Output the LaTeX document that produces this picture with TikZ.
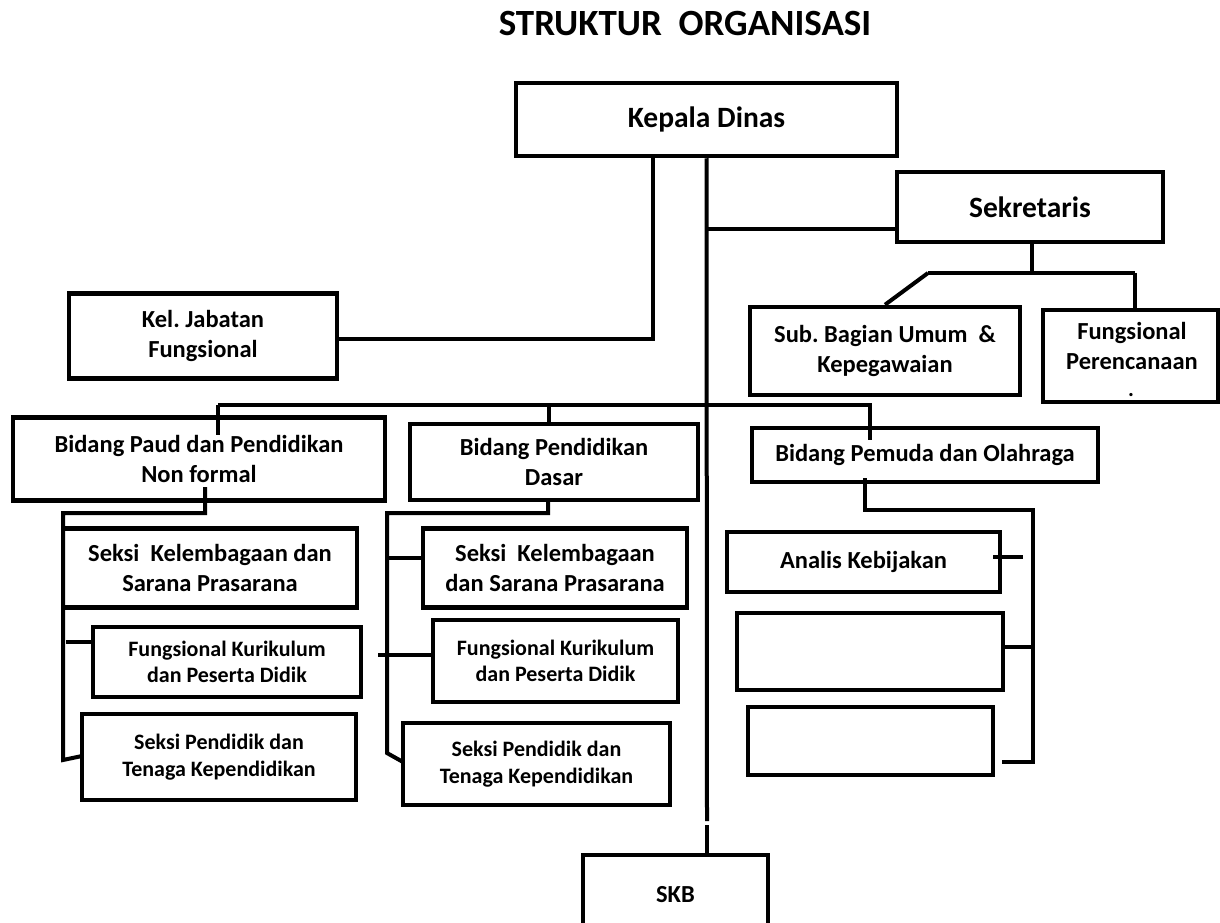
\documentclass[tikz,border=0pt]{standalone}
\usepackage{fontspec}
\setmainfont{Carlito}
\frenchspacing
\begin{document}
\begin{tikzpicture}[x=1pt,y=-1pt,
  box/.style={draw=black, line width=4.5pt, rectangle, inner sep=0pt, align=center,
    font=\bfseries\fontsize{24.5}{29.5}\selectfont},
  txt/.style={inner sep=0pt, align=center, font=\bfseries\fontsize{24.5}{29.5}\selectfont},
  big/.style={font=\bfseries\fontsize{29.5}{35}\selectfont},
  small/.style={font=\bfseries\fontsize{22}{26.5}\selectfont},
  conn/.style={draw=black, line width=4pt}]
\useasboundingbox (0,0) rectangle (1220,923);
\clip (0,0) rectangle (1220,923);

\node[font=\bfseries\fontsize{37}{44}\selectfont] (title) at (685,24) {STRUKTUR\ \ ORGANISASI};

% boxes
\node[box, big, minimum width=381pt, minimum height=73pt] (kepala) at (706.5,119.5) {Kepala Dinas};
\node[box, big, minimum width=266pt, minimum height=70pt] (sek) at (1030,207) {Sekretaris};
\node[box, minimum width=268pt, minimum height=85pt] (kel) at (203,336) {Kel. Jabatan\\Fungsional};
\node[box, minimum width=270pt, minimum height=88pt] (sub) at (885,351) {Sub. Bagian Umum\ \ \&\\Kepegawaian};
\node[box, minimum width=175pt, minimum height=92pt] (fp) at (1130.5,356) {};
\node[txt] (fpt) at (1132,346) {Fungsional\\Perencanaan};
\node[txt, font=\bfseries\fontsize{22}{22}\selectfont] (fpdot) at (1131,395) {.};
\node[box, minimum width=372pt, minimum height=83pt] (paud) at (199,459) {Bidang Paud dan Pendidikan\\Non formal};
\node[box, minimum width=288pt, minimum height=76pt] (dasar) at (554,462) {Bidang Pendidikan\\Dasar};
\node[box, minimum width=346pt, minimum height=54pt] (pemuda) at (925,455) {Bidang Pemuda dan Olahraga};
\node[box, minimum width=294pt, minimum height=79pt] (lkel) at (210,568) {Seksi\ \ Kelembagaan dan\\Sarana Prasarana};
\node[box, small, minimum width=268pt, minimum height=70pt] (lfk) at (227,662) {Fungsional Kurikulum\\dan Peserta Didik};
\node[box, small, minimum width=274pt, minimum height=86pt] (lsp) at (219,757) {Seksi Pendidik dan\\Tenaga Kependidikan};
\node[box, minimum width=264pt, minimum height=79pt] (mkel) at (555,568) {Seksi\ \ Kelembagaan\\dan Sarana Prasarana};
\node[box, small, minimum width=245pt, minimum height=82pt] (mfk) at (555.5,661) {Fungsional Kurikulum\\dan Peserta Didik};
\node[box, small, minimum width=267pt, minimum height=82pt] (msp) at (536.5,764) {Seksi Pendidik dan\\Tenaga Kependidikan};
\node[box, minimum width=273pt, minimum height=60pt] (analis) at (863.5,562) {Analis Kebijakan};
\node[box, minimum width=266pt, minimum height=77pt] (blank1) at (870,651.5) {};
\node[box, minimum width=245pt, minimum height=68pt] (blank2) at (870.5,741) {};
\node[box, minimum width=185pt, minimum height=80pt] (skb) at (675.5,895) {SKB};

% coordinates
\coordinate (k1) at (653,155);
\coordinate (k2) at (653,339);
\coordinate (s1) at (706,229);
\coordinate (gap1) at (707,821);
\coordinate (gap2) at (707,825);
\coordinate (sd) at (1032,242);
\coordinate (sj) at (1032,273);
\coordinate (sl) at (928,273);
\coordinate (sr) at (1135,273);
\coordinate (b1) at (218,405);
\coordinate (b2) at (872,405);
\coordinate (bp) at (218,435);
\coordinate (bd) at (549,405);
\coordinate (be1) at (870,405);
\coordinate (be2) at (870,440);
\coordinate (p1) at (205,487);
\coordinate (p2) at (205,513);
\coordinate (p3) at (63,513);
\coordinate (p4) at (63,760);
\coordinate (p5) at (82,756);
\coordinate (p6) at (66,642);
\coordinate (d1) at (548,500);
\coordinate (d2) at (548,513);
\coordinate (d3) at (387,513);
\coordinate (d4) at (387,753);
\coordinate (d5) at (403,762);
\coordinate (d6) at (385,558);
\coordinate (d7) at (378,655);
\coordinate (e1) at (865,478);
\coordinate (e2) at (865,510);
\coordinate (e3) at (1033,510);
\coordinate (e4) at (1033,762);
\coordinate (e5) at (1002,762);
\coordinate (e6) at (993,557);
\coordinate (e7) at (1023,557);
\coordinate (e8) at (1033,647);

% connectors
\draw[conn] (k1) -- (k2) -- (k2 -| kel.east);
\draw[conn] (kepala.south) -- (gap1);
\draw[conn] (gap2) -- (gap2 |- skb.north);
\draw[conn] (s1) -- (s1 -| sek.west);
\draw[conn] (sd) -- (sj);
\draw[conn] (sl) -- (sr);
\draw[conn] (sl) -- (sub.north);
\draw[conn] (sr) -- (sr |- fp.north);
\draw[conn] (b1) -- (b2);
\draw[conn] (b1) -- (bp);
\draw[conn] (bd) -- (bd |- dasar.north);
\draw[conn] (be1) -- (be2);
\draw[conn] (p1) -- (p2) -- (p3) -- (p4) -- (p5);
\draw[conn] (p6) -- (p6 -| lfk.west);
\draw[conn] (d1) -- (d2) -- (d3) -- (d4) -- (d5);
\draw[conn] (d6) -- (d6 -| mkel.west);
\draw[conn] (d7) -- (d7 -| mfk.west);
\draw[conn] (e1) -- (e2) -- (e3) -- (e4) -- (e5);
\draw[conn] (e6) -- (e7);
\draw[conn] (e8) -- (e8 -| blank1.east);
\end{tikzpicture}
\end{document}
